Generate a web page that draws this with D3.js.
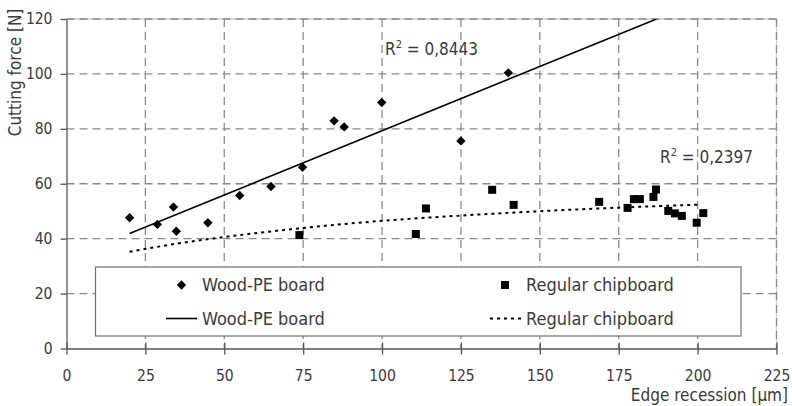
<!doctype html>
<html lang="en">
<head>
  <meta charset="utf-8">
  <title>Cutting force vs edge recession</title>
  <script src="https://cdn.jsdelivr.net/npm/d3@7"></script>
  <style>
    body { margin: 0; background: #fff; }
    svg { display: block; font-family: "DejaVu Sans Condensed", "DejaVu Sans", sans-serif; font-stretch: condensed; }
  </style>
</head>
<body>
  <div id="chart"></div>
  <script>
    const TEXT = "#3a3a3a";
    const AXIS = "#555555";
    const GRID = "#8a8a8a";
    const GRID_LIGHT = "#cfcfcf";

    const w = 792;
    const h = 406;

    // Wood-PE board measurements
    const woodX = [20, 28.8, 33.9, 34.8, 44.8, 54.9, 64.8, 74.8, 84.8, 88.0, 99.9, 125.0, 140.0];
    const woodY = [47.6, 45.2, 51.5, 42.7, 45.8, 55.7, 59.0, 66.0, 82.9, 80.7, 89.6, 75.6, 100.4];

    // Regular chipboard measurements
    const chipX = [73.8, 110.7, 113.9, 134.9, 141.7, 168.8, 177.8, 179.8, 181.7, 186.0, 186.8, 190.7, 192.8, 195.0, 199.7, 201.8];
    const chipY = [41.3, 41.7, 51.0, 57.8, 52.3, 53.4, 51.2, 54.4, 54.4, 55.2, 57.9, 50.1, 49.2, 48.3, 45.8, 49.3];

    // trend lines
    const woodTrendX = [20, 187];
    const woodTrendY = [41.9, 120];
    const chipTrendX = [20, 35, 50, 75, 100, 125, 150, 175, 201];
    const chipTrendY = [35.2, 38.2, 40.6, 43.9, 46.5, 48.4, 50.0, 51.3, 52.4];

    const xTicks = [0, 25, 50, 75, 100, 125, 150, 175, 200, 225];
    const yTicks = [0, 20, 40, 60, 80, 100, 120];

    const seriesNames = ["Wood-PE board", "Regular chipboard"];
    const r2Labels = ["0,8443", "0,2397"];
    const xTitle = "Edge recession [µm]";
    const yTitle = "Cutting force [N]";

    const plotLeft = 66.5, plotRight = 776.5, plotTop = 19, plotBottom = 348.5;

    const xScale = d3.scaleLinear().domain([0, 225]).range([plotLeft, plotRight]);
    const yScale = d3.scaleLinear().domain([0, 120]).range([plotBottom, plotTop]);

    const svg = d3.select("#chart").append("svg")
      .attr("width", w)
      .attr("height", h);

    // plot frame (top and right edges) - light line under dashes
    svg.append("line")
      .attr("x1", plotLeft).attr("x2", plotRight).attr("y1", plotTop).attr("y2", plotTop)
      .style("stroke", GRID_LIGHT).style("stroke-width", 1.3);
    svg.append("line")
      .attr("x1", plotRight).attr("x2", plotRight).attr("y1", plotTop).attr("y2", plotBottom)
      .style("stroke", GRID_LIGHT).style("stroke-width", 1.3);

    // gridlines
    svg.append("g").selectAll("line")
      .data(yTicks.filter(d => d > 0))
      .join("line")
      .attr("x1", plotLeft).attr("x2", plotRight)
      .attr("y1", d => yScale(d)).attr("y2", d => yScale(d))
      .style("stroke", GRID).style("stroke-width", 1.3)
      .style("stroke-dasharray", "8,5");
    svg.append("g").selectAll("line")
      .data(xTicks.filter(d => d > 0))
      .join("line")
      .attr("x1", d => xScale(d)).attr("x2", d => xScale(d))
      .attr("y1", plotTop).attr("y2", plotBottom)
      .style("stroke", GRID).style("stroke-width", 1.3)
      .style("stroke-dasharray", "8,5");

    // axes
    const xAxis = d3.axisBottom(xScale)
      .tickValues(xTicks)
      .tickSizeInner(6)
      .tickSizeOuter(0)
      .tickPadding(15);
    const yAxis = d3.axisLeft(yScale)
      .tickValues(yTicks)
      .tickSizeInner(6)
      .tickSizeOuter(0)
      .tickPadding(8);

    addAxis(svg, "x-ax", `translate(0, ${plotBottom})`, xAxis);
    addAxis(svg, "y-ax", `translate(${plotLeft}, 0)`, yAxis);
    // x ticks cross the axis
    svg.selectAll(".x-ax .tick line").attr("y1", -6);

    // trend lines
    svg.append("clipPath").attr("id", "plot-clip")
      .append("rect")
      .attr("x", plotLeft).attr("y", plotTop)
      .attr("width", plotRight - plotLeft).attr("height", plotBottom - plotTop);

    const line = d3.line()
      .x(d => xScale(d[0]))
      .y(d => yScale(d[1]));

    svg.append("path")
      .datum(d3.zip(woodTrendX, woodTrendY))
      .attr("clip-path", "url(#plot-clip)")
      .attr("d", line)
      .style("fill", "none")
      .style("stroke", "#000")
      .style("stroke-width", 1.6);

    svg.append("path")
      .datum(d3.zip(chipTrendX, chipTrendY))
      .attr("d", line.curve(d3.curveMonotoneX))
      .style("fill", "none")
      .style("stroke", "#000")
      .style("stroke-width", 2)
      .style("stroke-dasharray", "3,4");

    // points
    const diamond = d3.symbol().type(d3.symbolSquare).size(44);
    const square = d3.symbol().type(d3.symbolSquare).size(64);

    svg.append("g").selectAll("path")
      .data(d3.zip(woodX, woodY))
      .join("path")
      .attr("d", diamond)
      .attr("transform", d => `translate(${xScale(d[0])}, ${yScale(d[1])}) rotate(45)`)
      .style("fill", "#000");

    svg.append("g").selectAll("path")
      .data(d3.zip(chipX, chipY))
      .join("path")
      .attr("d", square)
      .attr("transform", d => `translate(${xScale(d[0])}, ${yScale(d[1])})`)
      .style("fill", "#000");

    // R^2 labels
    addR2(svg, 385, 55, r2Labels[0]);
    addR2(svg, 660, 163, r2Labels[1]);

    // legend
    const legend = svg.append("g");
    legend.append("rect")
      .attr("x", 95.5).attr("y", 267)
      .attr("width", 645.5).attr("height", 69)
      .style("fill", "#fff")
      .style("stroke", "#707070")
      .style("stroke-width", 1.2);

    const row1 = 285, row2 = 318.5;
    legend.append("path").attr("d", diamond)
      .attr("transform", `translate(181.5, ${row1}) rotate(45)`).style("fill", "#000");
    legend.append("path").attr("d", square)
      .attr("transform", `translate(505, ${row1})`).style("fill", "#000");
    legend.append("line")
      .attr("x1", 166).attr("x2", 197).attr("y1", row2).attr("y2", row2)
      .style("stroke", "#000").style("stroke-width", 1.6);
    legend.append("line")
      .attr("x1", 490).attr("x2", 524).attr("y1", row2).attr("y2", row2)
      .style("stroke", "#000").style("stroke-width", 2).style("stroke-dasharray", "3,4");

    addLegendText(legend, 202, row1, seriesNames[0]);
    addLegendText(legend, 526, row1, seriesNames[1]);
    addLegendText(legend, 202, row2, seriesNames[0]);
    addLegendText(legend, 526, row2, seriesNames[1]);

    // axis titles
    svg.append("text")
      .attr("x", 788).attr("y", 400.5)
      .style("text-anchor", "end")
      .style("font-size", "17px")
      .style("fill", TEXT)
      .text(xTitle);

    svg.append("text")
      .attr("x", 21).attr("y", 72.5)
      .attr("transform", "rotate(-90, 21, 72.5)")
      .style("text-anchor", "middle")
      .style("font-size", "17px")
      .style("fill", TEXT)
      .text(yTitle);

    function addAxis(svg, _class, transform, axis) {
      const g = svg.append("g")
        .attr("class", _class)
        .attr("transform", transform)
        .call(axis);
      g.select(".domain").style("stroke", AXIS).style("stroke-width", 1.3);
      g.selectAll(".tick line").style("stroke", AXIS).style("stroke-width", 1.3);
      g.selectAll(".tick text")
        .style("font-family", "\"DejaVu Sans Condensed\", \"DejaVu Sans\", sans-serif")
        .style("font-size", "15.5px")
        .style("fill", TEXT);
      return g;
    }

    function addR2(svg, x, y, value) {
      const t = svg.append("text")
        .attr("x", x).attr("y", y)
        .style("font-size", "17px")
        .style("fill", TEXT);
      t.append("tspan").text("R");
      t.append("tspan").attr("dy", -7).style("font-size", "11px").text("2");
      t.append("tspan").attr("dy", 7).text(" = " + value);
    }

    function addLegendText(g, x, y, text) {
      g.append("text")
        .attr("x", x).attr("y", y)
        .attr("dy", "0.35em")
        .style("font-size", "18px")
        .style("fill", TEXT)
        .text(text);
    }
  </script>
</body>
</html>
